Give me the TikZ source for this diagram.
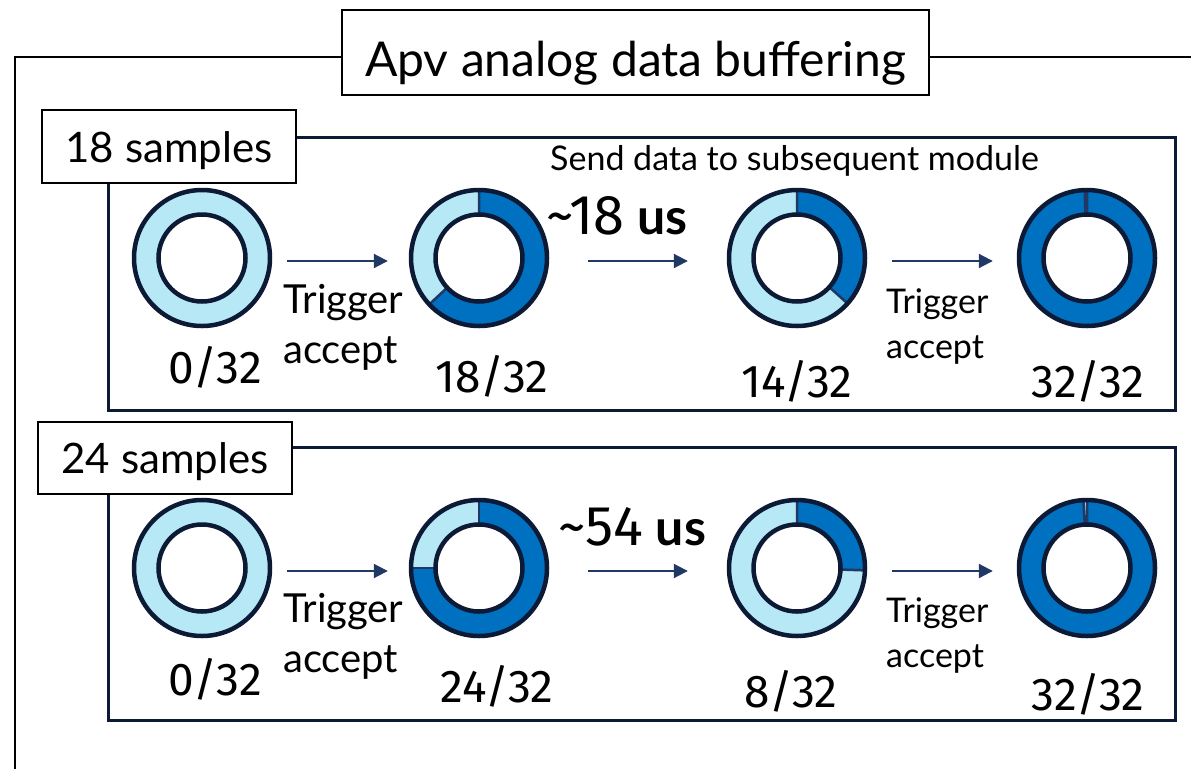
\documentclass[tikz,border=0pt]{standalone}
\usepackage{fontspec}
\setmainfont{Lato}
\newfontfamily\numfont{Fira Sans}
\usetikzlibrary{arrows.meta}

\definecolor{ringline}{HTML}{0C1A35}
\definecolor{arrowblue}{HTML}{203864}
\definecolor{divline}{HTML}{1F3864}
\definecolor{darkbuf}{HTML}{0070C0}
\definecolor{lightbuf}{HTML}{B7E8F6}

\tikzset{
  outerframe/.style={draw=black, line width=2pt},
  panelframe/.style={draw=ringline, line width=3pt},
  titlebox/.style={draw=black, line width=1.5pt, fill=white, inner sep=0pt, anchor=base,
    minimum width=587pt, text height=66pt, text depth=19pt, font=\fontsize{48}{52}\selectfont},
  labelbox/.style={draw=black, line width=1.5pt, fill=white, inner sep=0pt, anchor=base,
    minimum width=254pt, font=\fontsize{42}{46}\selectfont},
  flow/.style={draw=arrowblue, line width=2pt, -{Triangle[length=14pt,width=14pt]}},
  numlab/.style={anchor=base, inner sep=0pt, font=\numfont\fontsize{46}{50}\selectfont},
  triglab/.style={anchor=base west, inner sep=0pt, font=\fontsize{#1}{#1}\selectfont},
  triglab/.default=40,
  delaylab/.style={anchor=base west, inner sep=0pt},
  ringnode/.style={circle, minimum size=140pt, inner sep=0pt},
  divider/.style={draw=divline, line width=2.5pt},
}

% readout delay text: number part, then the bold unit
\newcommand\delaytext[1]{{\numfont\fontsize{56}{60}\selectfont\textasciitilde#1}\hspace{13pt}{\fontsize{50}{54}\selectfont\bfseries us}}

% buffer ring: name, centre, filled angle (degrees, clockwise from the top)
\newcommand\bufring[3]{%
  \node[ringnode] (#1) at (#2) {};
  \begin{scope}[shift={(#2)}, yscale=-1]
    \fill[lightbuf, even odd rule] (0,0) circle (68) (0,0) circle (43.5);
    \ifdim #3pt>0pt
      \fill[darkbuf] (90:68) arc[start angle=90, end angle=90-#3, radius=68]
        -- (90-#3:43.5) arc[start angle=90-#3, end angle=90, radius=43.5] -- cycle;
      \draw[divider] (90:43.5) -- (90:68) (90-#3:43.5) -- (90-#3:68);
    \fi
    \draw[ringline, line width=4.5pt] (0,0) circle (68) (0,0) circle (43.5);
  \end{scope}}

\begin{document}
\begin{tikzpicture}[x=1pt, y=-1pt]
  \useasboundingbox[fill=white] (0,0) rectangle (1191,769);

  % outer frame and heading
  \draw[outerframe] (15,769) -- (15,57) -- (1191,57);
  \node[titlebox] (title) at (635.5,76) {Apv analog data buffering};

  % ---------- 18 samples ----------
  \draw[panelframe] (108,137) rectangle (1175,410);
  \node[labelbox, text height=52pt, text depth=21pt] (lab18) at (169,162) {18 samples};
  \node[anchor=base west, inner sep=0pt, font=\fontsize{34}{36}\selectfont] (send) at (550,170)
    {Send data to subsequent module};

  \bufring{a1}{202,258}{0}
  \bufring{a2}{479,258}{227}
  \bufring{a3}{797,258}{132}
  \bufring{a4}{1087,258}{358}

  \draw[flow] ([shift={(15,3)}]a1.east) -- ([shift={(-21,3)}]a2.west);
  \draw[flow] ([shift={(39,3)}]a2.east) -- ([shift={(-39,3)}]a3.west);
  \draw[flow] ([shift={(25,3)}]a3.east) -- ([shift={(-24,3)}]a4.west);

  \node[triglab] (a1t) at (283,313) {Trigger};
  \node[triglab] (a1c) at (283,363) {accept};
  \node[triglab=34] (a3t) at (886,313) {Trigger};
  \node[triglab=34] (a3c) at (886,358) {accept};
  \node[delaylab] (d18) at (546,234) {\delaytext{18}};

  \node[numlab] (n11) at (215,383) {0/32};
  \node[numlab] (n12) at (492,392) {18/32};
  \node[numlab] (n13) at (797,397) {14/32};
  \node[numlab] (n14) at (1088,397) {32/32};

  % ---------- 24 samples ----------
  \draw[panelframe] (108,447) rectangle (1175,720);
  \node[labelbox, text height=51pt, text depth=21pt] (lab24) at (165,473) {24 samples};

  \bufring{b1}{202,568}{0}
  \bufring{b2}{479,568}{270}
  \bufring{b3}{797,568}{92}
  \bufring{b4}{1087,568}{357}

  \draw[flow] ([shift={(15,3)}]b1.east) -- ([shift={(-21,3)}]b2.west);
  \draw[flow] ([shift={(39,3)}]b2.east) -- ([shift={(-39,3)}]b3.west);
  \draw[flow] ([shift={(25,3)}]b3.east) -- ([shift={(-24,3)}]b4.west);

  \node[triglab] (b1t) at (283,622) {Trigger};
  \node[triglab] (b1c) at (283,672) {accept};
  \node[triglab=34] (b3t) at (886,622) {Trigger};
  \node[triglab=34] (b3c) at (886,667) {accept};
  \node[delaylab] (d54) at (558,545) {\delaytext{54}};

  \node[numlab] (n21) at (215,695) {0/32};
  \node[numlab] (n22) at (497,702) {24/32};
  \node[numlab] (n23) at (791,707) {8/32};
  \node[numlab] (n24) at (1088,710) {32/32};
\end{tikzpicture}
\end{document}
